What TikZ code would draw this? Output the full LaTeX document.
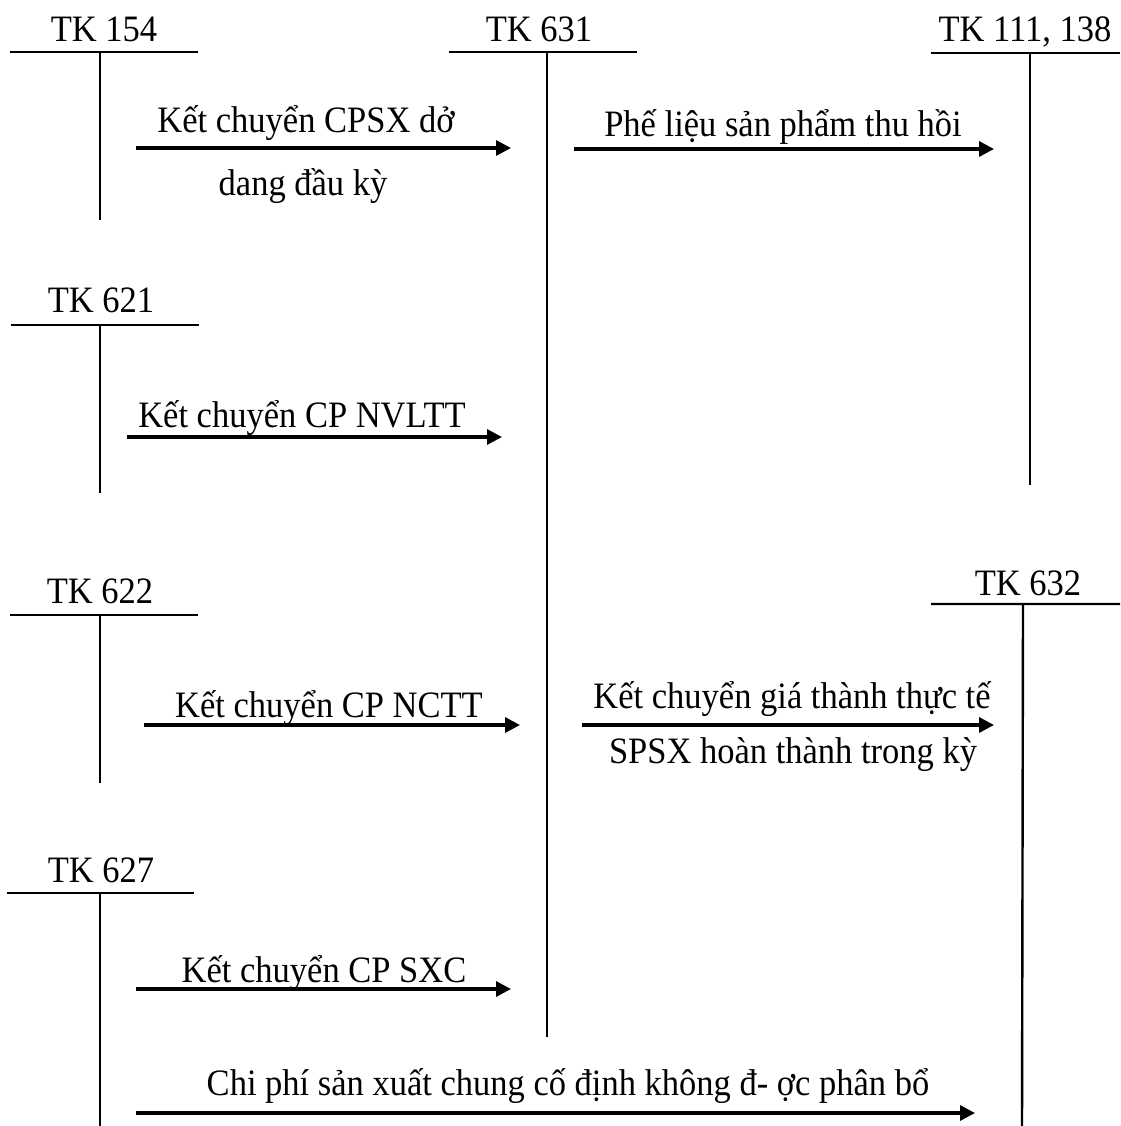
\documentclass[tikz,border=0pt]{standalone}
\usepackage{fontspec}
\setmainfont{Liberation Serif}
\usetikzlibrary{arrows.meta}
% slightly tall text face
\newcommand\tallface[1]{\scalebox{1}[1.08]{#1}}
\begin{document}
\begin{tikzpicture}[x=1pt,y=-1pt,
  every node/.style={inner sep=0pt, anchor=base, font=\fontsize{34.5}{40}\selectfont},
  acct/.style={line width=2.4pt},
  flow/.style={line width=3.3pt, -{Triangle[length=15pt,width=15pt]}}]
\useasboundingbox (0,0) rectangle (1120,1126);

% account titles
\node (t154) at (104,42) {\tallface{TK 154}};
\node (t631) at (539,42) {\tallface{TK 631}};
\node (t111) at (1025,42) {\tallface{TK 111, 138}};
\node (t621) at (101,312) {\tallface{TK 621}};
\node (t622) at (100,603) {\tallface{TK 622}};
\node (t632) at (1028,595) {\tallface{TK 632}};
\node (t627) at (101,882) {\tallface{TK 627}};

% T-accounts
\draw[acct] (10,52) -- (198,52) (100,52) -- (100,220);
\draw[acct] (449,52) -- (637,52) (547,52) -- (547,1037);
\draw[acct] (931,53) -- (1120,53) (1030,53) -- (1030,485);
\draw[acct] (11,325) -- (199,325) (100,325) -- (100,493);
\draw[acct] (10,615) -- (198,615) (100,615) -- (100,783);
\draw[acct] (931,604) -- (1120,604) (1023,604) -- (1022,1126);
\draw[acct] (7,893) -- (194,893) (100,893) -- (100,1126);

% arrow end points
\coordinate (a1s) at (136,148); \coordinate (a1e) at (511,148);
\coordinate (a2s) at (574,149); \coordinate (a2e) at (994,149);
\coordinate (a3s) at (127,437); \coordinate (a3e) at (502,437);
\coordinate (a4s) at (144,725); \coordinate (a4e) at (520,725);
\coordinate (a5s) at (582,725); \coordinate (a5e) at (994,725);
\coordinate (a6s) at (136,989); \coordinate (a6e) at (511,989);
\coordinate (a7s) at (136,1113); \coordinate (a7e) at (975,1113);

\draw[flow] (a1s) -- (a1e);
\draw[flow] (a2s) -- (a2e);
\draw[flow] (a3s) -- (a3e);
\draw[flow] (a4s) -- (a4e);
\draw[flow] (a5s) -- (a5e);
\draw[flow] (a6s) -- (a6e);
\draw[flow] (a7s) -- (a7e);

% entry labels
\node (l1a) at (306,133) {\tallface{Kết chuyển CPSX dở}};
\node (l1b) at (303,196) {\tallface{dang đầu kỳ}};
\node (l2) at (783,137) {\tallface{Phế liệu sản phẩm thu hồi}};
\node (l3) at (302,427) {\tallface{Kết chuyển CP NVLTT}};
\node (l4) at (329,717) {\tallface{Kết chuyển CP NCTT}};
\node (l5a) at (792,708) {\tallface{Kết chuyển giá thành thực tế}};
\node (l5b) at (793,763) {\tallface{SPSX hoàn thành trong kỳ}};
\node (l6) at (324,982) {\tallface{Kết chuyển CP SXC}};
\node (l7) at (568,1095) {\tallface{Chi phí sản xuất chung cố định không đ- ợc phân bổ}};
\end{tikzpicture}
\end{document}
